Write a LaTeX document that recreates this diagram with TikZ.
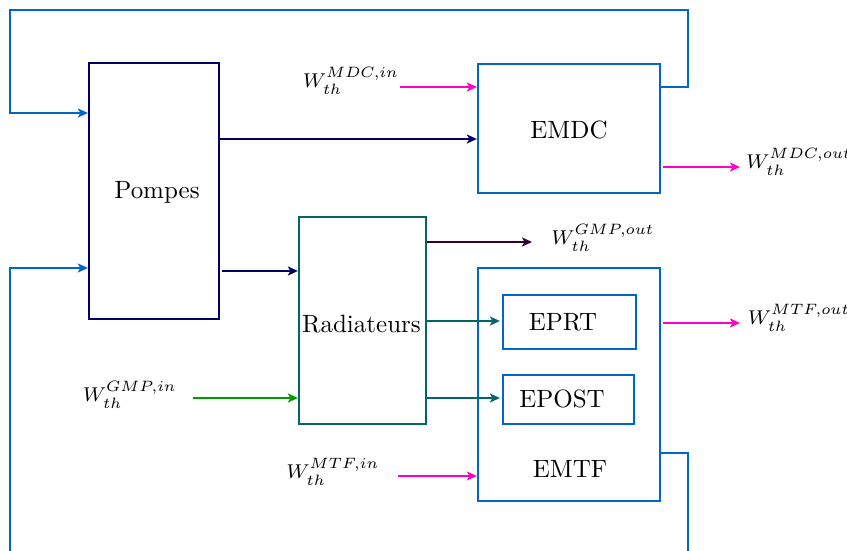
\documentclass[tikz,border=0pt]{standalone}
\usetikzlibrary{arrows.meta,fit}
\definecolor{navyc}{HTML}{000066}
\definecolor{bluec}{HTML}{0066CC}
\definecolor{tealc}{HTML}{006666}
\definecolor{magc}{HTML}{FF00CC}
\definecolor{greenc}{HTML}{009900}
\definecolor{purpc}{HTML}{330033}
\begin{document}
\begin{tikzpicture}[x=0.4pt,y=-0.4pt, line width=0.9pt,
  box/.style={draw, inner sep=0pt, fit={#1}},
  arr/.style={-{Stealth[length=4pt,width=3.6pt,inset=1pt]}},
  lbl/.style={inner sep=0pt, font=\footnotesize},
  txt/.style={inner sep=0pt}]
\useasboundingbox (0,0) rectangle (847,551);
% blocks
\node[box={(89,63)(219,319)}, draw=navyc] (P) {};
\node[txt] (Pt) at (157,192) {Pompes};
\node[box={(478,64)(660,193)}, draw=bluec] (MDC) {};
\node[txt] (MDCt) at (569,129.5) {EMDC};
\node[box={(299,217)(426,424)}, draw=tealc] (R) {};
\node[txt] (Rt) at (361.5,324) {Radiateurs};
\node[box={(478,268)(660,501)}, draw=bluec] (MTF) {};
\node[txt] (MTFt) at (570,469) {EMTF};
\node[box={(503,295)(636,349)}, draw=bluec] (PRT) {};
\node[txt] (PRTt) at (563,322) {EPRT};
\node[box={(503,375)(634,424)}, draw=bluec] (POST) {};
\node[txt] (POSTt) at (562,399) {EPOST};
% labels
\node[lbl] (Lmdcin) at (351,81) {$W_{th}^{MDC,in}$};
\node[lbl] (Lmdcout) at (799,162) {$W_{th}^{MDC,out}$};
\node[lbl] (Lgmpout) at (603,238) {$W_{th}^{GMP,out}$};
\node[lbl] (Lmtfout) at (799,318) {$W_{th}^{MTF,out}$};
\node[lbl] (Lgmpin) at (130,395) {$W_{th}^{GMP,in}$};
\node[lbl] (Lmtfin) at (333,472) {$W_{th}^{MTF,in}$};
% free ends
\coordinate (cmdcin) at (400,87);
\coordinate (cmdcout) at (740,167);
\coordinate (cgmpout) at (532,242);
\coordinate (cmtfout) at (740,323);
\coordinate (cgmpin) at (193,398);
\coordinate (cmtfin) at (398,476);
\coordinate (tl) at (10,10);
\coordinate (tr) at (688,10);
\coordinate (bl) at (10,551);
\coordinate (br) at (688,551);
% feedback loops
\draw[bluec, arr] (MDC.east |- 0,87) -| (tr) -- (tl) |- (P.west |- 0,113);
\draw[bluec] (MTF.east |- 0,453) -| (br);
\draw[bluec, arr] (bl) |- (P.west |- 0,268);
% flows
\draw[navyc, arr] (P.east |- 0,139) -- (MDC.west |- 0,139);
\draw[navyc, arr] ([xshift=0.8pt]P.east |- 0,271) -- (R.west |- 0,271);
\draw[magc, arr] (cmdcin) -- (MDC.west |- cmdcin);
\draw[magc, arr] ([xshift=0.8pt]MDC.east |- cmdcout) -- (cmdcout);
\draw[purpc, arr] (R.east |- cgmpout) -- (cgmpout);
\draw[tealc, arr] (R.east |- 0,321) -- ([xshift=-0.8pt]PRT.west |- 0,321);
\draw[tealc, arr] (R.east |- 0,398) -- ([xshift=-0.8pt]POST.west |- 0,398);
\draw[magc, arr] ([xshift=0.8pt]MTF.east |- cmtfout) -- (cmtfout);
\draw[greenc, arr] (cgmpin) -- (R.west |- cgmpin);
\draw[magc, arr] (cmtfin) -- (MTF.west |- cmtfin);
\end{tikzpicture}
\end{document}
